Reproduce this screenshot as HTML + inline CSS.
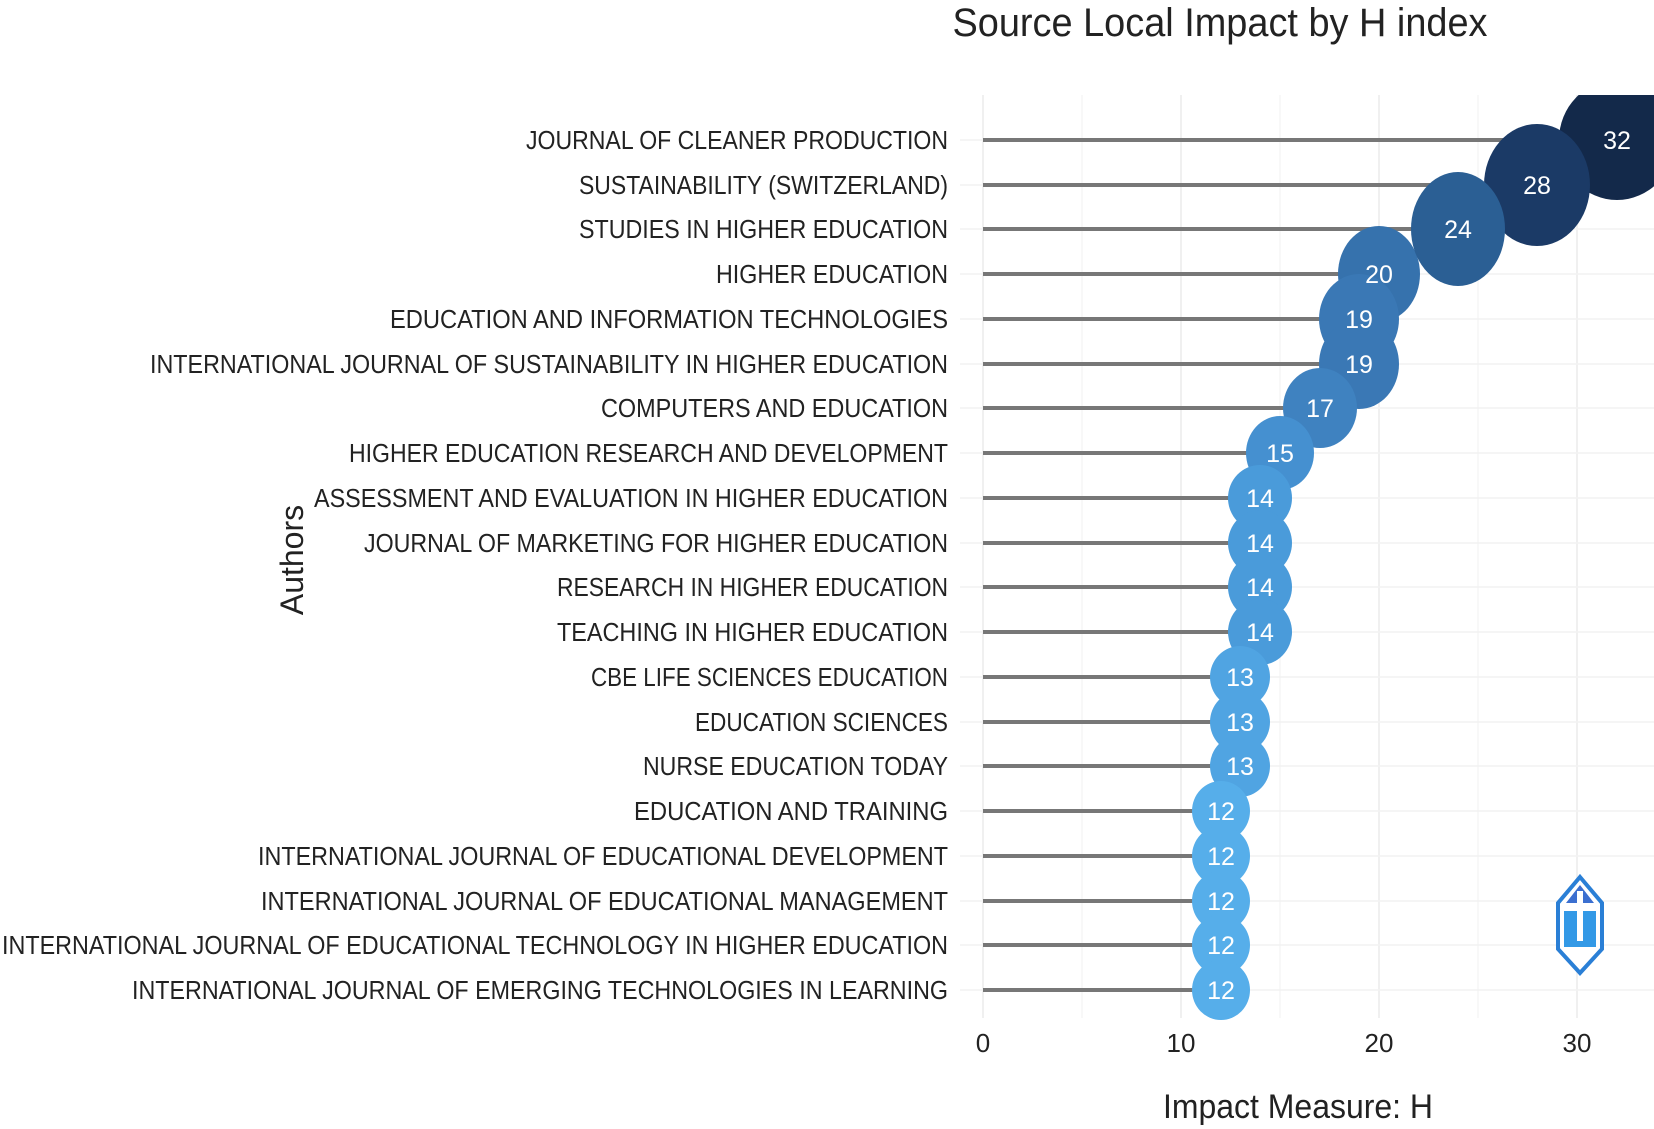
<!DOCTYPE html>
<html><head><meta charset="utf-8"><style>
html,body{margin:0;padding:0;background:#fff;}
svg{display:block;}
text{font-family:"Liberation Sans",sans-serif;}
</style></head><body>
<svg width="1654" height="1129" viewBox="0 0 1654 1129" xmlns="http://www.w3.org/2000/svg">
<defs><clipPath id="pc"><rect x="960" y="95" width="694" height="950"/></clipPath></defs>
<text x="1220" y="36" font-size="40" fill="#222" text-anchor="middle" textLength="535" lengthAdjust="spacingAndGlyphs">Source Local Impact by H index</text>
<g stroke="#ececec" stroke-width="1.5">
<line x1="983" y1="95" x2="983" y2="1018"/><line x1="1181" y1="95" x2="1181" y2="1018"/><line x1="1379" y1="95" x2="1379" y2="1018"/><line x1="1577" y1="95" x2="1577" y2="1018"/>
<line x1="1082" y1="95" x2="1082" y2="1018" stroke="#f5f5f5"/><line x1="1280" y1="95" x2="1280" y2="1018" stroke="#f5f5f5"/><line x1="1478" y1="95" x2="1478" y2="1018" stroke="#f5f5f5"/>
</g>
<g stroke="#f2f2f2" stroke-width="1.5">
<line x1="960" y1="140" x2="1654" y2="140"/><line x1="960" y1="185" x2="1654" y2="185"/><line x1="960" y1="229" x2="1654" y2="229"/><line x1="960" y1="274" x2="1654" y2="274"/><line x1="960" y1="319" x2="1654" y2="319"/><line x1="960" y1="364" x2="1654" y2="364"/><line x1="960" y1="408" x2="1654" y2="408"/><line x1="960" y1="453" x2="1654" y2="453"/><line x1="960" y1="498" x2="1654" y2="498"/><line x1="960" y1="543" x2="1654" y2="543"/><line x1="960" y1="587" x2="1654" y2="587"/><line x1="960" y1="632" x2="1654" y2="632"/><line x1="960" y1="677" x2="1654" y2="677"/><line x1="960" y1="722" x2="1654" y2="722"/><line x1="960" y1="766" x2="1654" y2="766"/><line x1="960" y1="811" x2="1654" y2="811"/><line x1="960" y1="856" x2="1654" y2="856"/><line x1="960" y1="901" x2="1654" y2="901"/><line x1="960" y1="945" x2="1654" y2="945"/><line x1="960" y1="990" x2="1654" y2="990"/>
</g>
<g font-size="26" fill="#222" text-anchor="end">
<text x="948" y="149" textLength="422" lengthAdjust="spacingAndGlyphs">JOURNAL OF CLEANER PRODUCTION</text>
<text x="948" y="194" textLength="369" lengthAdjust="spacingAndGlyphs">SUSTAINABILITY (SWITZERLAND)</text>
<text x="948" y="238" textLength="369" lengthAdjust="spacingAndGlyphs">STUDIES IN HIGHER EDUCATION</text>
<text x="948" y="283" textLength="232" lengthAdjust="spacingAndGlyphs">HIGHER EDUCATION</text>
<text x="948" y="328" textLength="558" lengthAdjust="spacingAndGlyphs">EDUCATION AND INFORMATION TECHNOLOGIES</text>
<text x="948" y="373" textLength="798" lengthAdjust="spacingAndGlyphs">INTERNATIONAL JOURNAL OF SUSTAINABILITY IN HIGHER EDUCATION</text>
<text x="948" y="417" textLength="347" lengthAdjust="spacingAndGlyphs">COMPUTERS AND EDUCATION</text>
<text x="948" y="462" textLength="599" lengthAdjust="spacingAndGlyphs">HIGHER EDUCATION RESEARCH AND DEVELOPMENT</text>
<text x="948" y="507" textLength="634" lengthAdjust="spacingAndGlyphs">ASSESSMENT AND EVALUATION IN HIGHER EDUCATION</text>
<text x="948" y="552" textLength="584" lengthAdjust="spacingAndGlyphs">JOURNAL OF MARKETING FOR HIGHER EDUCATION</text>
<text x="948" y="596" textLength="391" lengthAdjust="spacingAndGlyphs">RESEARCH IN HIGHER EDUCATION</text>
<text x="948" y="641" textLength="391" lengthAdjust="spacingAndGlyphs">TEACHING IN HIGHER EDUCATION</text>
<text x="948" y="686" textLength="357" lengthAdjust="spacingAndGlyphs">CBE LIFE SCIENCES EDUCATION</text>
<text x="948" y="731" textLength="253" lengthAdjust="spacingAndGlyphs">EDUCATION SCIENCES</text>
<text x="948" y="775" textLength="305" lengthAdjust="spacingAndGlyphs">NURSE EDUCATION TODAY</text>
<text x="948" y="820" textLength="314" lengthAdjust="spacingAndGlyphs">EDUCATION AND TRAINING</text>
<text x="948" y="865" textLength="690" lengthAdjust="spacingAndGlyphs">INTERNATIONAL JOURNAL OF EDUCATIONAL DEVELOPMENT</text>
<text x="948" y="910" textLength="687" lengthAdjust="spacingAndGlyphs">INTERNATIONAL JOURNAL OF EDUCATIONAL MANAGEMENT</text>
<text x="948" y="954" textLength="946" lengthAdjust="spacingAndGlyphs">INTERNATIONAL JOURNAL OF EDUCATIONAL TECHNOLOGY IN HIGHER EDUCATION</text>
<text x="948" y="999" textLength="816" lengthAdjust="spacingAndGlyphs">INTERNATIONAL JOURNAL OF EMERGING TECHNOLOGIES IN LEARNING</text>
</g>
<g stroke="#777" stroke-width="4">
<line x1="983" y1="140" x2="1617" y2="140"/><line x1="983" y1="185" x2="1537" y2="185"/><line x1="983" y1="229" x2="1458" y2="229"/><line x1="983" y1="274" x2="1379" y2="274"/><line x1="983" y1="319" x2="1359" y2="319"/><line x1="983" y1="364" x2="1359" y2="364"/><line x1="983" y1="408" x2="1320" y2="408"/><line x1="983" y1="453" x2="1280" y2="453"/><line x1="983" y1="498" x2="1260" y2="498"/><line x1="983" y1="543" x2="1260" y2="543"/><line x1="983" y1="587" x2="1260" y2="587"/><line x1="983" y1="632" x2="1260" y2="632"/><line x1="983" y1="677" x2="1240" y2="677"/><line x1="983" y1="722" x2="1240" y2="722"/><line x1="983" y1="766" x2="1240" y2="766"/><line x1="983" y1="811" x2="1221" y2="811"/><line x1="983" y1="856" x2="1221" y2="856"/><line x1="983" y1="901" x2="1221" y2="901"/><line x1="983" y1="945" x2="1221" y2="945"/><line x1="983" y1="990" x2="1221" y2="990"/>
</g>
<g clip-path="url(#pc)">
<ellipse cx="1617" cy="140" rx="58" ry="60" fill="#13294a"/>
<ellipse cx="1537" cy="185" rx="53" ry="61" fill="#1b3a66"/>
<ellipse cx="1379" cy="274" rx="41" ry="48" fill="#3672ad"/>
<ellipse cx="1458" cy="229" rx="47" ry="57" fill="#2b5f94"/>
<ellipse cx="1359" cy="319" rx="40" ry="45" fill="#3a78b5"/>
<ellipse cx="1359" cy="364" rx="40" ry="45" fill="#3a78b5"/>
<ellipse cx="1320" cy="408" rx="37" ry="40" fill="#3f82c0"/>
<ellipse cx="1280" cy="453" rx="34" ry="37" fill="#4590d0"/>
<ellipse cx="1260" cy="498" rx="32" ry="33" fill="#4a9bda"/>
<ellipse cx="1260" cy="543" rx="32" ry="33" fill="#4a9bda"/>
<ellipse cx="1260" cy="587" rx="32" ry="33" fill="#4a9bda"/>
<ellipse cx="1260" cy="632" rx="32" ry="33" fill="#4a9bda"/>
<ellipse cx="1240" cy="677" rx="30" ry="31" fill="#50a4e2"/>
<ellipse cx="1240" cy="722" rx="30" ry="31" fill="#50a4e2"/>
<ellipse cx="1240" cy="766" rx="30" ry="31" fill="#50a4e2"/>
<ellipse cx="1221" cy="811" rx="29" ry="30" fill="#56aeea"/>
<ellipse cx="1221" cy="856" rx="29" ry="30" fill="#56aeea"/>
<ellipse cx="1221" cy="901" rx="29" ry="30" fill="#56aeea"/>
<ellipse cx="1221" cy="945" rx="29" ry="30" fill="#56aeea"/>
<ellipse cx="1221" cy="990" rx="29" ry="30" fill="#56aeea"/>
</g>
<g font-size="25" fill="#fff" text-anchor="middle">
<text x="1617" y="149">32</text><text x="1537" y="194">28</text><text x="1458" y="238">24</text><text x="1379" y="283">20</text><text x="1359" y="328">19</text><text x="1359" y="373">19</text><text x="1320" y="417">17</text><text x="1280" y="462">15</text><text x="1260" y="507">14</text><text x="1260" y="552">14</text><text x="1260" y="596">14</text><text x="1260" y="641">14</text><text x="1240" y="686">13</text><text x="1240" y="731">13</text><text x="1240" y="775">13</text><text x="1221" y="820">12</text><text x="1221" y="865">12</text><text x="1221" y="910">12</text><text x="1221" y="954">12</text><text x="1221" y="999">12</text>
</g>
<g font-size="26" fill="#222" text-anchor="middle">
<text x="983" y="1052">0</text><text x="1181" y="1052">10</text><text x="1379" y="1052">20</text><text x="1577" y="1052">30</text>
</g>
<text x="1298" y="1118" font-size="34" fill="#222" text-anchor="middle" textLength="270" lengthAdjust="spacingAndGlyphs">Impact Measure: H</text>
<text transform="translate(303,560) rotate(-90)" font-size="32" fill="#222" text-anchor="middle">Authors</text>
<g transform="translate(1580,925)">
<polygon points="0,-48 22,-22 22,24 0,48 -22,24 -22,-22" fill="#fff" stroke="#2a7fd6" stroke-width="4"/>
<polygon points="0,-40 14,-22 -14,-22" fill="#3b6fd0"/>
<rect x="-16" y="-14" width="32" height="36" fill="#3399e6"/>
<rect x="-3" y="-34" width="6" height="50" fill="#fff"/>
</g>
</svg>
</body></html>
